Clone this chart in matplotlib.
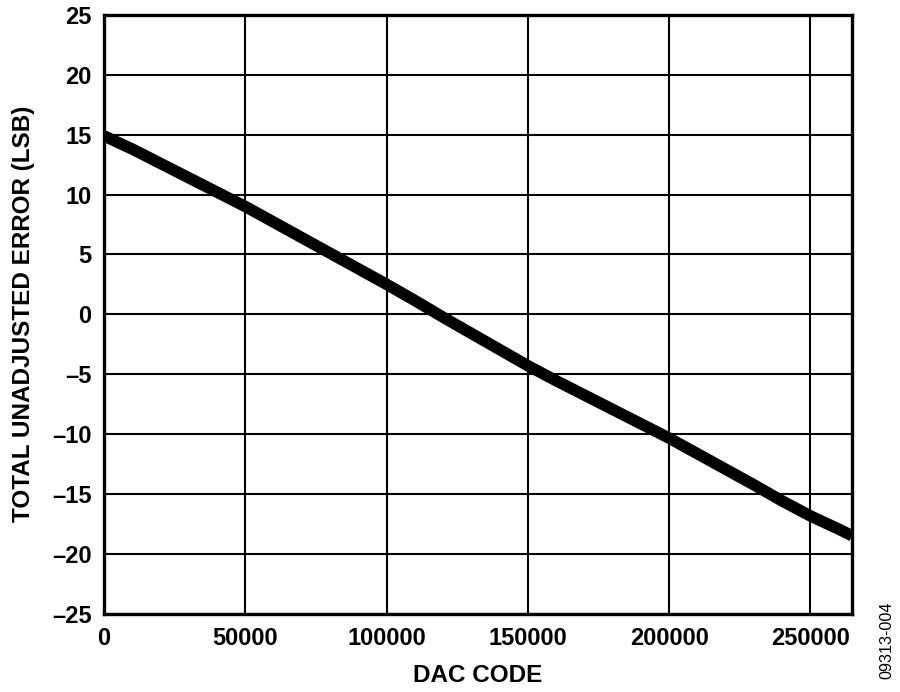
import matplotlib
matplotlib.use("Agg")
import matplotlib.pyplot as plt

# DAC code vs total unadjusted error
dac_code = [0, 10000, 20000, 30000, 40000, 50000, 60000, 70000, 80000, 90000,
            100000, 110000, 120000, 130000, 140000, 150000, 160000, 170000,
            180000, 190000, 200000, 210000, 220000, 230000, 240000, 250000,
            260000, 264700]
tue_lsb = [14.9, 13.8, 12.6, 11.4, 10.2, 9.0, 7.7, 6.4, 5.1, 3.8,
           2.5, 1.15, -0.25, -1.6, -2.95, -4.3, -5.55, -6.75,
           -7.95, -9.15, -10.35, -11.65, -12.95, -14.25, -15.6, -16.85,
           -17.95, -18.5]

x_ticks = [0, 50000, 100000, 150000, 200000, 250000]
y_ticks = [-25, -20, -15, -10, -5, 0, 5, 10, 15, 20, 25]
y_tick_labels = [str(v).replace("-", "\u2013") for v in y_ticks]

plt.rcParams["font.family"] = ["Liberation Sans", "DejaVu Sans"]

fig = plt.figure(figsize=(9, 6.92), dpi=100)
ax = fig.add_axes([0.1156, 0.1134, 0.8311, 0.8649])

ax.plot(dac_code, tue_lsb, color="black", linewidth=8.3,
        solid_capstyle="butt", solid_joinstyle="round", zorder=3)

ax.set_xlim(0, 264700)
ax.set_ylim(-25, 25)
ax.set_xticks(x_ticks)
ax.set_xticklabels([str(v) for v in x_ticks])
ax.set_yticks(y_ticks)
ax.set_yticklabels(y_tick_labels)

ax.grid(True, color="black", linewidth=1.5)
ax.tick_params(length=0, labelsize=17)
ax.tick_params(axis="y", pad=9)
ax.tick_params(axis="x", pad=10)
for lab in ax.get_xticklabels() + ax.get_yticklabels():
    lab.set_fontweight("bold")
for sp in ax.spines.values():
    sp.set_linewidth(2.4)

ax.set_xlabel("DAC CODE", fontsize=17.5, fontweight="bold")
ax.set_ylabel("TOTAL UNADJUSTED ERROR (LSB)", fontsize=17.5, fontweight="bold")
ax.xaxis.set_label_coords(0.5, -0.103)
ax.yaxis.set_label_coords(-0.108, 0.5)
ax.xaxis.label.set_va("center")
ax.yaxis.label.set_va("center")

fig.text(0.985, 0.074, "09313-004", rotation=90, fontsize=11.6,
         ha="center", va="center")

fig.savefig("out.png", dpi=100)
